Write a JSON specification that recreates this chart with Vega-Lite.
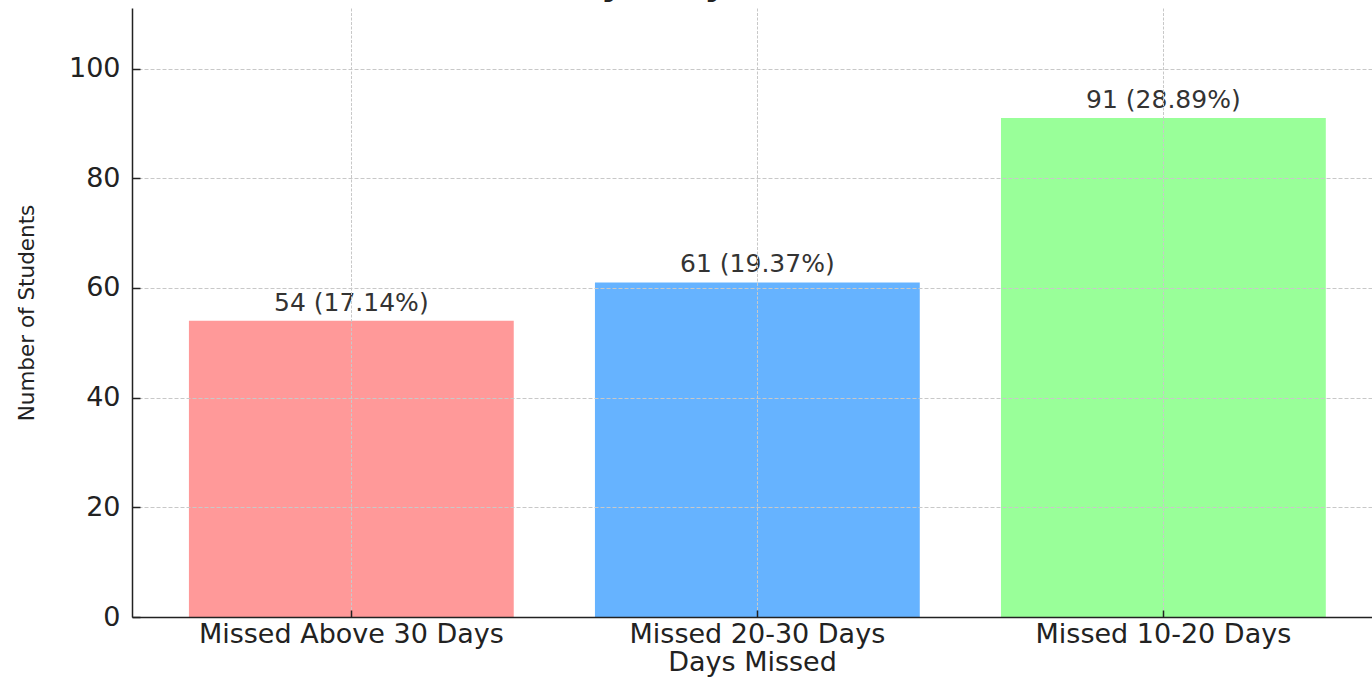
{
  "$schema": "https://vega.github.io/schema/vega-lite/v6.json",
  "width": 1240,
  "height": 609,
  "autosize": {"type": "none"},
  "padding": {"left": 132, "top": 8, "right": 0, "bottom": 61},
  "background": "white",
  "config": {"view": {"stroke": null}, "font": "DejaVu Sans"},
  "title": {
    "text": "Distribution of Students by Days Missed (Out of 315 Students)",
    "fontSize": 45,
    "font": "DejaVu Sans",
    "fontWeight": "normal",
    "color": "#222222",
    "anchor": "middle",
    "baseline": "alphabetic",
    "offset": -30,
    "dx": -27
  },
  "data": {
    "values": [
      {"category": "Missed Above 30 Days", "count": 54, "label": "54 (17.14%)"},
      {"category": "Missed 20-30 Days", "count": 61, "label": "61 (19.37%)"},
      {"category": "Missed 10-20 Days", "count": 91, "label": "91 (28.89%)"}
    ]
  },
  "encoding": {
    "x": {
      "field": "category",
      "type": "nominal",
      "sort": null,
      "scale": {"paddingInner": 0.2, "paddingOuter": 0.127, "align": 0.552},
      "axis": {
        "title": "Days Missed",
        "titleFontSize": 27,
        "titleFontWeight": "normal",
        "titleColor": "#222222",
        "titlePadding": 2,
        "labelFontSize": 27,
        "labelColor": "#222222",
        "labelAngle": 0,
        "labelLimit": 0,
        "labelPadding": 11,
        "tickSize": -7,
        "tickWidth": 1.5,
        "tickColor": "#222222",
        "bandPosition": 0.5,
        "grid": true,
        "gridColor": "#c8c8c8",
        "gridDash": [3, 1.5],
        "gridWidth": 1,
        "domainColor": "#222222",
        "domainWidth": 1.5,
        "zindex": 1
      }
    },
    "y": {
      "field": "count",
      "type": "quantitative",
      "scale": {"domain": [0, 111.05], "nice": false, "zero": true},
      "axis": {
        "title": "Number of Students",
        "titleFontSize": 21.5,
        "titleFontWeight": "normal",
        "titleColor": "#222222",
        "titlePadding": 30,
        "labelFontSize": 27,
        "labelColor": "#222222",
        "labelPadding": 20,
        "values": [0, 20, 40, 60, 80, 100],
        "tickSize": -8,
        "tickWidth": 1.5,
        "tickColor": "#222222",
        "grid": true,
        "gridColor": "#c8c8c8",
        "gridDash": [4, 2],
        "gridWidth": 1,
        "domainColor": "#222222",
        "domainWidth": 1.5,
        "zindex": 1
      }
    }
  },
  "layer": [
    {
      "mark": {"type": "bar"},
      "encoding": {
        "color": {
          "field": "category",
          "type": "nominal",
          "scale": {
            "domain": ["Missed Above 30 Days", "Missed 20-30 Days", "Missed 10-20 Days"],
            "range": ["#ff9999", "#66b3ff", "#99ff99"]
          },
          "legend": null
        }
      }
    },
    {
      "mark": {"type": "text", "baseline": "alphabetic", "dy": -10, "fontSize": 25, "color": "#333333"},
      "encoding": {"text": {"field": "label"}}
    }
  ]
}
